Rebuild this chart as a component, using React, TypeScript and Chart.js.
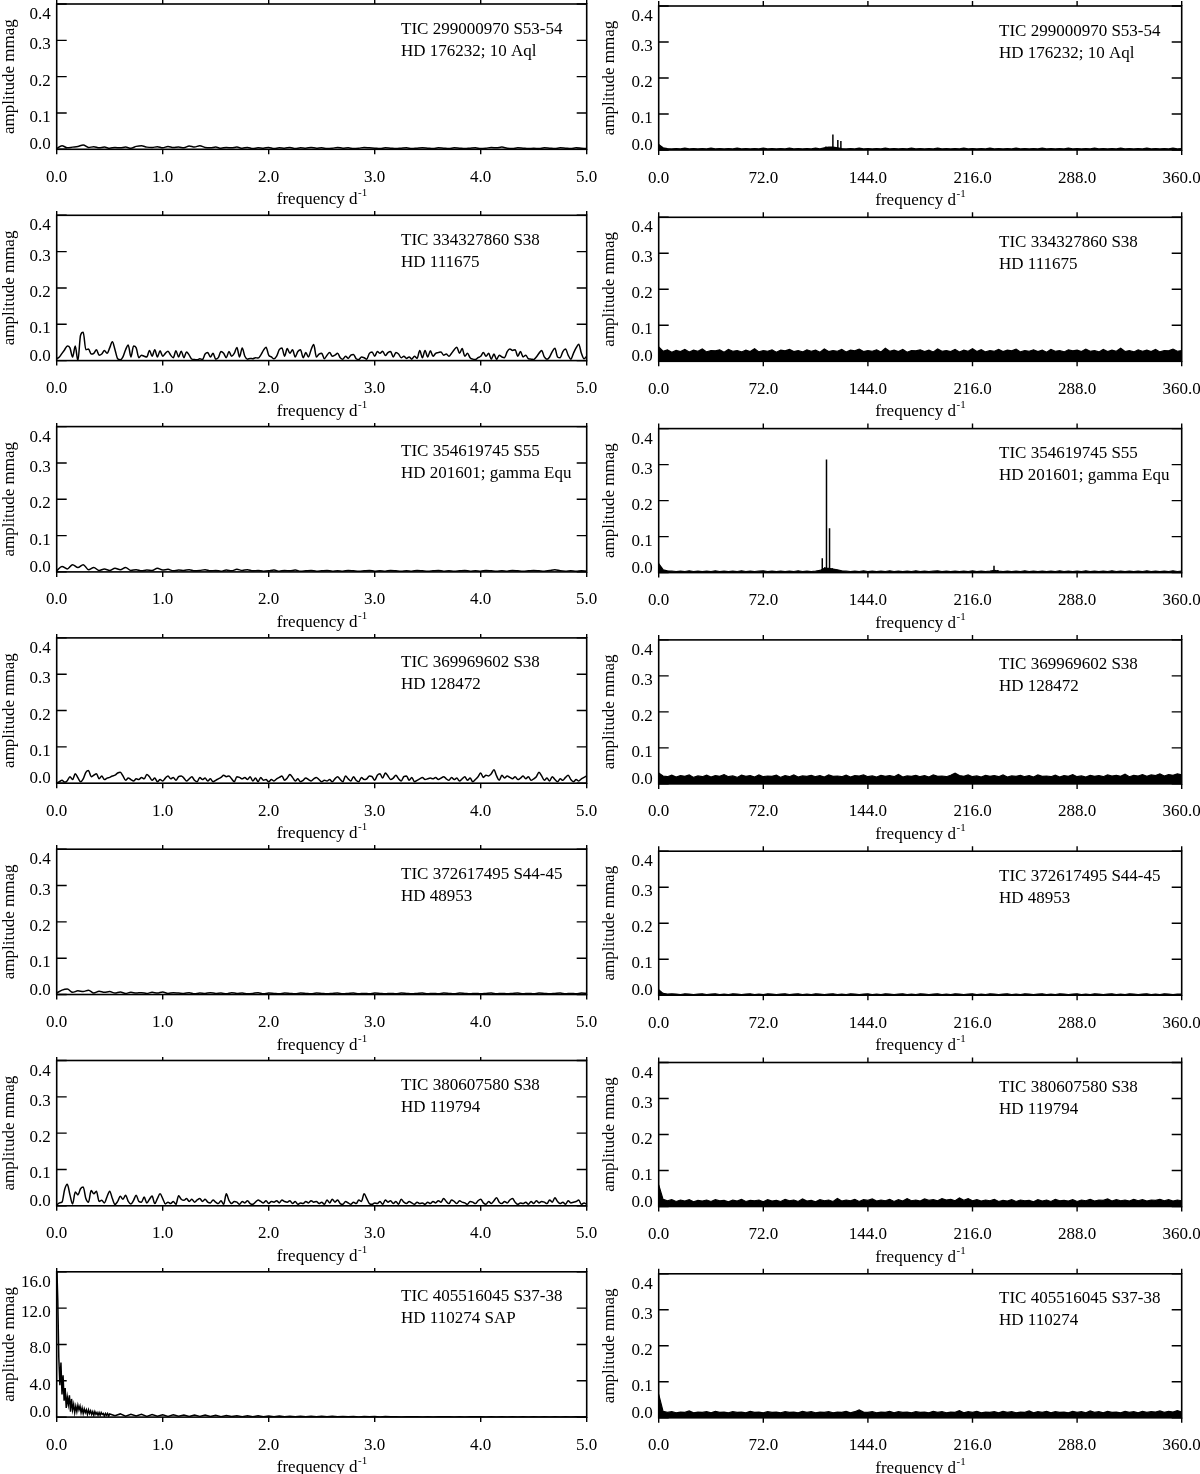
import React, { useEffect, useRef } from "react";
import { Chart, registerables } from "chart.js";
Chart.register(...registerables);

const FONT = '"Liberation Serif", "Times New Roman", serif';

// ---- tick values / labels ----
const leftFreqTicks = [0, 1, 2, 3, 4, 5];
const leftFreqLabels = ["0.0", "1.0", "2.0", "3.0", "4.0", "5.0"];
const rightFreqTicks = [0, 72, 144, 216, 288, 360];
const rightFreqLabels = ["0.0", "72.0", "144.0", "216.0", "288.0", "360.0"];
const ampTicks = [0, 0.1, 0.2, 0.3, 0.4];
const ampLabels = ["0.0", "0.1", "0.2", "0.3", "0.4"];
const sapTicks = [0, 4, 8, 12, 16];
const sapLabels = ["0.0", "4.0", "8.0", "12.0", "16.0"];

// ---- star labels ----
const ticIds = [
  "TIC 299000970 S53-54",
  "TIC 334327860 S38",
  "TIC 354619745 S55",
  "TIC 369969602 S38",
  "TIC 372617495 S44-45",
  "TIC 380607580 S38",
  "TIC 405516045 S37-38",
];
const hdLeft = ["HD 176232; 10 Aql", "HD 111675", "HD 201601; gamma Equ", "HD 128472", "HD 48953", "HD 119794", "HD 110274 SAP"];
const hdRight = ["HD 176232; 10 Aql", "HD 111675", "HD 201601; gamma Equ", "HD 128472", "HD 48953", "HD 119794", "HD 110274"];

// ---- frequency grid steps (d^-1) ----
const STEP_FINE = 0.025;
const STEP_COARSE = 0.05;
const STEP_RIGHT = 3;

// ---- left panels (0-5 d^-1), amplitude in mmag ----
const p1L = [
  0.002,0.010,0.004,0.006,0.008,0.012,0.005,0.007,0.004,0.006,
  0.003,0.005,0.004,0.006,0.003,0.008,0.010,0.006,0.005,0.007,
  0.004,0.008,0.005,0.006,0.004,0.009,0.006,0.010,0.005,0.004,
  0.006,0.003,0.005,0.004,0.006,0.003,0.005,0.002,0.004,0.003,
  0.005,0.002,0.004,0.003,0.005,0.002,0.004,0.003,0.005,0.003,
  0.004,0.002,0.003,0.005,0.003,0.004,0.002,0.003,0.005,0.004,
  0.003,0.002,0.004,0.003,0.002,0.003,0.004,0.002,0.003,0.004,
  0.003,0.002,0.004,0.003,0.002,0.004,0.003,0.002,0.003,0.004,
  0.002,0.003,0.005,0.004,0.006,0.003,0.002,0.004,0.003,0.002,
  0.003,0.002,0.004,0.003,0.002,0.004,0.003,0.002,0.004,0.003,
  0.002,
];
const p2L = [
  0.005,0.010,0.020,0.030,0.040,0.035,0.010,0.040,0.000,0.070,
  0.078,0.030,0.032,0.018,0.020,0.030,0.015,0.018,0.028,0.020,
  0.035,0.052,0.030,0.005,0.002,0.010,0.030,0.043,0.010,0.040,
  0.035,0.008,0.015,0.012,0.010,0.028,0.012,0.030,0.010,0.027,
  0.012,0.020,0.026,0.015,0.008,0.027,0.010,0.026,0.008,0.024,
  0.015,0.004,0.003,0.002,0.005,0.003,0.018,0.022,0.010,0.020,
  0.004,0.008,0.025,0.020,0.008,0.025,0.012,0.020,0.036,0.010,
  0.035,0.012,0.004,0.006,0.005,0.008,0.007,0.015,0.028,0.037,
  0.015,0.010,0.005,0.012,0.030,0.035,0.012,0.033,0.020,0.030,
  0.010,0.025,0.030,0.008,0.022,0.010,0.030,0.044,0.010,0.018,
  0.020,0.005,0.015,0.022,0.012,0.015,0.020,0.008,0.004,0.012,
  0.006,0.015,0.017,0.005,0.003,0.010,0.008,0.004,0.020,0.024,
  0.012,0.025,0.020,0.026,0.014,0.022,0.025,0.010,0.022,0.018,
  0.008,0.012,0.006,0.010,0.004,0.012,0.006,0.028,0.008,0.028,
  0.010,0.027,0.012,0.020,0.022,0.024,0.015,0.018,0.012,0.020,
  0.030,0.037,0.020,0.033,0.012,0.020,0.008,0.004,0.003,0.008,
  0.012,0.022,0.012,0.020,0.004,0.018,0.003,0.015,0.010,0.008,
  0.025,0.032,0.028,0.030,0.012,0.025,0.010,0.015,0.005,0.004,
  0.003,0.010,0.020,0.028,0.010,0.004,0.010,0.025,0.034,0.010,
  0.008,0.025,0.032,0.015,0.004,0.020,0.035,0.045,0.020,0.005,
  0.012,
];
const p3L = [
  0.003,0.015,0.008,0.020,0.012,0.020,0.006,0.012,0.004,0.008,
  0.004,0.010,0.006,0.012,0.004,0.006,0.003,0.005,0.004,0.010,
  0.005,0.007,0.003,0.005,0.004,0.006,0.003,0.004,0.006,0.003,
  0.004,0.002,0.005,0.003,0.007,0.004,0.006,0.003,0.004,0.002,
  0.003,0.005,0.002,0.004,0.003,0.005,0.002,0.003,0.004,0.002,
  0.003,0.004,0.002,0.003,0.002,0.004,0.003,0.002,0.003,0.004,
  0.002,0.003,0.002,0.004,0.003,0.002,0.003,0.002,0.004,0.003,
  0.002,0.003,0.004,0.002,0.003,0.002,0.003,0.004,0.002,0.003,
  0.002,0.004,0.003,0.002,0.003,0.002,0.004,0.003,0.002,0.003,
  0.004,0.003,0.002,0.004,0.006,0.003,0.002,0.003,0.002,0.003,
  0.002,
];
const p4L = [
  0.000,0.004,0.008,0.003,0.007,0.018,0.010,0.026,0.015,0.004,
  0.012,0.030,0.035,0.018,0.022,0.026,0.012,0.020,0.010,0.014,
  0.016,0.020,0.022,0.028,0.030,0.020,0.008,0.014,0.010,0.006,
  0.012,0.010,0.016,0.012,0.024,0.018,0.008,0.014,0.004,0.010,
  0.006,0.014,0.020,0.012,0.016,0.008,0.018,0.020,0.014,0.006,
  0.012,0.018,0.008,0.004,0.016,0.010,0.014,0.006,0.012,0.004,
  0.008,0.012,0.016,0.022,0.018,0.020,0.012,0.004,0.018,0.016,
  0.012,0.016,0.010,0.018,0.006,0.014,0.004,0.016,0.008,0.010,
  0.004,0.010,0.006,0.012,0.016,0.020,0.008,0.014,0.024,0.016,
  0.006,0.012,0.004,0.008,0.014,0.010,0.006,0.012,0.016,0.010,
  0.004,0.008,0.006,0.010,0.004,0.012,0.018,0.010,0.004,0.020,
  0.012,0.006,0.018,0.008,0.004,0.016,0.010,0.012,0.020,0.018,
  0.008,0.022,0.026,0.014,0.028,0.020,0.010,0.014,0.022,0.012,
  0.006,0.018,0.020,0.008,0.016,0.004,0.008,0.012,0.016,0.010,
  0.012,0.014,0.012,0.016,0.010,0.014,0.018,0.012,0.008,0.016,
  0.010,0.014,0.006,0.012,0.018,0.008,0.014,0.004,0.010,0.018,
  0.028,0.016,0.022,0.020,0.026,0.037,0.020,0.008,0.022,0.014,
  0.020,0.016,0.012,0.018,0.010,0.014,0.020,0.012,0.018,0.008,
  0.012,0.018,0.030,0.020,0.008,0.014,0.006,0.018,0.010,0.004,
  0.012,0.008,0.016,0.022,0.010,0.004,0.010,0.006,0.012,0.016,
  0.020,
];
const p5L = [
  0.004,0.012,0.015,0.006,0.010,0.008,0.012,0.004,0.009,0.006,
  0.008,0.004,0.007,0.003,0.006,0.004,0.005,0.003,0.006,0.004,
  0.007,0.003,0.005,0.004,0.003,0.005,0.002,0.004,0.003,0.005,
  0.003,0.004,0.002,0.005,0.003,0.004,0.002,0.003,0.005,0.002,
  0.004,0.003,0.002,0.004,0.003,0.002,0.004,0.003,0.002,0.004,
  0.003,0.002,0.003,0.004,0.002,0.003,0.004,0.002,0.003,0.002,
  0.004,0.003,0.002,0.003,0.002,0.004,0.003,0.002,0.003,0.004,
  0.002,0.003,0.002,0.004,0.003,0.002,0.004,0.003,0.002,0.003,
  0.002,0.003,0.004,0.002,0.003,0.002,0.003,0.004,0.002,0.003,
  0.002,0.004,0.003,0.002,0.003,0.004,0.002,0.003,0.002,0.004,
  0.003,
];
const p6L = [
  0.002,0.008,0.010,0.045,0.059,0.030,0.005,0.038,0.030,0.047,
  0.052,0.020,0.010,0.042,0.033,0.040,0.012,0.015,0.008,0.025,
  0.040,0.020,0.004,0.012,0.026,0.018,0.029,0.012,0.005,0.015,
  0.029,0.012,0.010,0.024,0.008,0.018,0.027,0.006,0.020,0.033,
  0.020,0.005,0.010,0.006,0.012,0.004,0.028,0.018,0.015,0.020,
  0.012,0.018,0.010,0.016,0.020,0.012,0.018,0.010,0.008,0.016,
  0.010,0.006,0.014,0.004,0.033,0.015,0.006,0.012,0.010,0.004,
  0.012,0.008,0.014,0.006,0.004,0.010,0.016,0.012,0.008,0.014,
  0.006,0.012,0.010,0.014,0.008,0.016,0.012,0.010,0.014,0.006,
  0.012,0.004,0.008,0.006,0.012,0.008,0.014,0.010,0.012,0.006,
  0.010,0.004,0.016,0.008,0.018,0.010,0.016,0.006,0.004,0.012,
  0.008,0.004,0.010,0.006,0.016,0.012,0.033,0.020,0.006,0.004,
  0.008,0.006,0.012,0.004,0.016,0.010,0.014,0.006,0.012,0.004,
  0.018,0.010,0.006,0.012,0.008,0.004,0.010,0.006,0.008,0.004,
  0.010,0.006,0.012,0.008,0.014,0.010,0.020,0.012,0.006,0.016,
  0.012,0.006,0.014,0.010,0.008,0.004,0.012,0.010,0.006,0.014,
  0.018,0.008,0.004,0.012,0.006,0.014,0.022,0.010,0.006,0.012,
  0.008,0.016,0.020,0.010,0.004,0.008,0.006,0.010,0.004,0.012,
  0.006,0.014,0.008,0.012,0.010,0.006,0.016,0.010,0.022,0.012,
  0.006,0.010,0.004,0.014,0.008,0.010,0.012,0.016,0.004,0.008,
  0.004,
];
// SAP panel: fine segment 0-0.50 (step 0.01), coarse segment 0.55-5.0 (step 0.05)
const SAP_FINE_STEP = 0.01;
const SAP_COARSE_START = 0.55;
const p7LFine = [
  17.0,13.0,6.5,3.5,6.0,2.5,4.6,1.8,3.2,1.0,
  2.2,1.4,2.4,0.6,2.0,0.8,1.4,0.5,1.2,0.6,
  1.3,0.8,1.2,0.5,1.0,0.4,0.9,0.5,0.8,0.3,
  0.8,0.4,0.7,0.3,0.6,0.2,0.6,0.3,0.5,0.2,
  0.5,0.2,0.5,0.3,0.4,0.1,0.4,0.2,0.4,0.1,
  0.35,
];
const p7LCoarse = [
  0.15,0.35,0.10,0.32,0.12,0.30,0.08,0.28,0.10,0.26,
  0.08,0.25,0.10,0.24,0.06,0.22,0.08,0.22,0.06,0.20,
  0.05,0.18,0.06,0.16,0.05,0.15,0.04,0.14,0.05,0.12,
  0.04,0.12,0.05,0.10,0.04,0.10,0.03,0.09,0.04,0.08,
  0.03,0.08,0.04,0.07,0.03,0.07,0.02,0.06,0.03,0.06,
  0.02,0.06,0.03,0.05,0.02,0.05,0.03,0.05,0.02,0.04,
  0.02,0.04,0.03,0.04,0.02,0.04,0.02,0.04,0.03,0.04,
  0.02,0.03,0.02,0.04,0.02,0.03,0.02,0.03,0.02,0.03,
  0.02,0.03,0.02,0.03,0.02,0.03,0.02,0.03,0.02,0.03,
];

// ---- right panels (0-360 d^-1), noise envelope every 3 d^-1 ----
const p1R = [
  0.015,0.006,0.004,0.003,0.004,0.003,0.005,0.003,0.004,0.003,
  0.004,0.003,0.005,0.003,0.004,0.003,0.004,0.003,0.005,0.003,
  0.004,0.003,0.004,0.003,0.005,0.003,0.004,0.003,0.004,0.003,
  0.005,0.003,0.004,0.003,0.004,0.003,0.005,0.003,0.006,0.008,
  0.008,0.006,0.004,0.003,0.004,0.003,0.005,0.003,0.004,0.003,
  0.004,0.003,0.005,0.003,0.004,0.003,0.004,0.003,0.005,0.003,
  0.004,0.003,0.004,0.003,0.005,0.003,0.004,0.003,0.004,0.003,
  0.005,0.003,0.004,0.003,0.004,0.003,0.005,0.003,0.004,0.003,
  0.004,0.003,0.005,0.003,0.004,0.003,0.004,0.003,0.005,0.003,
  0.004,0.003,0.004,0.003,0.005,0.003,0.004,0.003,0.004,0.003,
  0.005,0.003,0.004,0.003,0.004,0.003,0.005,0.003,0.004,0.003,
  0.004,0.003,0.005,0.003,0.004,0.003,0.004,0.003,0.005,0.003,
  0.004,
];
const p1RSpikeFreq = [115.1, 119.9, 123.3, 125.4];
const p1RSpikeAmp = [0.010, 0.043, 0.028, 0.025];

const p2R = [
  0.040,0.028,0.032,0.025,0.030,0.027,0.033,0.026,0.031,0.028,
  0.034,0.026,0.030,0.029,0.032,0.025,0.033,0.028,0.030,0.026,
  0.031,0.027,0.035,0.026,0.030,0.028,0.032,0.025,0.031,0.029,
  0.033,0.027,0.030,0.026,0.032,0.028,0.031,0.025,0.034,0.027,
  0.030,0.028,0.033,0.026,0.031,0.029,0.034,0.027,0.030,0.028,
  0.032,0.026,0.036,0.028,0.031,0.027,0.033,0.025,0.030,0.029,
  0.032,0.027,0.031,0.026,0.034,0.028,0.030,0.027,0.033,0.026,
  0.031,0.028,0.035,0.027,0.032,0.026,0.030,0.028,0.033,0.027,
  0.031,0.029,0.034,0.026,0.030,0.028,0.032,0.027,0.031,0.025,
  0.033,0.028,0.030,0.026,0.032,0.029,0.031,0.027,0.034,0.028,
  0.030,0.026,0.033,0.027,0.031,0.028,0.036,0.027,0.030,0.026,
  0.032,0.028,0.031,0.027,0.033,0.026,0.030,0.029,0.034,0.028,
  0.030,
];
const p3R = [
  0.025,0.008,0.005,0.004,0.003,0.004,0.003,0.005,0.003,0.004,
  0.003,0.004,0.003,0.005,0.003,0.004,0.003,0.004,0.003,0.005,
  0.003,0.004,0.003,0.004,0.005,0.003,0.004,0.003,0.004,0.003,
  0.004,0.003,0.005,0.003,0.004,0.003,0.004,0.006,0.012,0.012,
  0.010,0.008,0.005,0.004,0.003,0.004,0.003,0.005,0.003,0.004,
  0.003,0.004,0.003,0.005,0.003,0.004,0.003,0.004,0.003,0.005,
  0.003,0.004,0.003,0.004,0.005,0.003,0.004,0.003,0.004,0.003,
  0.004,0.003,0.005,0.003,0.004,0.003,0.004,0.006,0.004,0.003,
  0.004,0.003,0.004,0.003,0.005,0.003,0.004,0.003,0.004,0.003,
  0.004,0.003,0.005,0.003,0.004,0.003,0.004,0.003,0.005,0.003,
  0.004,0.003,0.004,0.003,0.005,0.003,0.004,0.003,0.004,0.003,
  0.004,0.003,0.005,0.003,0.004,0.003,0.004,0.003,0.005,0.003,
  0.004,
];
const p3RSpikeFreq = [112.6, 114.3, 115.5, 117.6, 119.5, 121.0, 230.8, 233.4];
const p3RSpikeAmp = [0.040, 0.015, 0.314, 0.123, 0.012, 0.010, 0.019, 0.007];

const p4R = [
  0.030,0.022,0.020,0.024,0.019,0.023,0.021,0.025,0.018,0.022,
  0.020,0.024,0.019,0.023,0.021,0.026,0.020,0.022,0.018,0.024,
  0.021,0.023,0.019,0.025,0.020,0.022,0.021,0.024,0.018,0.023,
  0.020,0.025,0.019,0.022,0.021,0.024,0.020,0.023,0.019,0.025,
  0.021,0.022,0.020,0.024,0.019,0.023,0.022,0.025,0.020,0.022,
  0.019,0.024,0.021,0.023,0.020,0.026,0.019,0.022,0.021,0.024,
  0.020,0.023,0.019,0.025,0.021,0.022,0.020,0.024,0.030,0.023,
  0.021,0.025,0.020,0.022,0.019,0.024,0.021,0.023,0.020,0.025,
  0.019,0.022,0.021,0.024,0.020,0.023,0.019,0.025,0.021,0.022,
  0.020,0.024,0.019,0.023,0.021,0.026,0.020,0.022,0.019,0.024,
  0.021,0.023,0.020,0.025,0.022,0.024,0.021,0.027,0.020,0.024,
  0.022,0.026,0.021,0.025,0.023,0.028,0.022,0.026,0.024,0.028,
  0.025,
];
const p5R = [
  0.015,0.005,0.003,0.004,0.003,0.002,0.004,0.003,0.002,0.003,
  0.004,0.002,0.003,0.004,0.002,0.003,0.002,0.004,0.003,0.002,
  0.003,0.004,0.002,0.003,0.002,0.004,0.003,0.002,0.003,0.004,
  0.002,0.003,0.004,0.002,0.003,0.002,0.004,0.003,0.002,0.003,
  0.004,0.002,0.003,0.002,0.004,0.003,0.002,0.003,0.004,0.002,
  0.003,0.002,0.004,0.003,0.002,0.003,0.004,0.002,0.003,0.002,
  0.004,0.003,0.002,0.003,0.004,0.002,0.003,0.002,0.004,0.003,
  0.002,0.003,0.004,0.002,0.003,0.002,0.004,0.003,0.002,0.003,
  0.004,0.002,0.003,0.002,0.004,0.003,0.002,0.003,0.004,0.002,
  0.003,0.002,0.004,0.003,0.002,0.003,0.004,0.002,0.003,0.002,
  0.004,0.003,0.002,0.003,0.004,0.002,0.003,0.002,0.004,0.003,
  0.002,0.003,0.004,0.002,0.003,0.002,0.004,0.003,0.002,0.003,
  0.003,
];
const p6R = [
  0.060,0.020,0.016,0.019,0.014,0.018,0.015,0.019,0.013,0.017,
  0.015,0.018,0.014,0.019,0.016,0.017,0.013,0.018,0.015,0.020,
  0.014,0.017,0.016,0.018,0.013,0.019,0.015,0.017,0.014,0.020,
  0.016,0.018,0.014,0.021,0.015,0.017,0.013,0.019,0.016,0.018,
  0.014,0.022,0.015,0.018,0.016,0.020,0.014,0.019,0.017,0.021,
  0.015,0.018,0.016,0.020,0.014,0.019,0.015,0.022,0.016,0.018,
  0.015,0.021,0.017,0.019,0.016,0.022,0.018,0.020,0.016,0.024,
  0.017,0.022,0.016,0.019,0.015,0.018,0.016,0.020,0.014,0.017,
  0.015,0.019,0.014,0.018,0.016,0.017,0.013,0.019,0.015,0.018,
  0.014,0.020,0.016,0.017,0.015,0.019,0.014,0.018,0.016,0.020,
  0.015,0.018,0.017,0.021,0.015,0.019,0.016,0.018,0.015,0.020,
  0.016,0.019,0.015,0.018,0.017,0.020,0.016,0.019,0.015,0.018,
  0.016,
];
const p7R = [
  0.065,0.018,0.015,0.017,0.014,0.016,0.015,0.019,0.014,0.016,
  0.015,0.017,0.014,0.018,0.015,0.016,0.014,0.017,0.015,0.016,
  0.014,0.018,0.015,0.016,0.014,0.017,0.015,0.016,0.014,0.017,
  0.015,0.016,0.014,0.018,0.015,0.017,0.014,0.016,0.015,0.017,
  0.014,0.016,0.015,0.018,0.014,0.017,0.022,0.016,0.015,0.017,
  0.014,0.016,0.015,0.018,0.014,0.017,0.015,0.016,0.014,0.017,
  0.015,0.016,0.014,0.018,0.015,0.017,0.014,0.016,0.015,0.020,
  0.014,0.017,0.015,0.018,0.014,0.016,0.015,0.017,0.014,0.018,
  0.015,0.017,0.014,0.016,0.015,0.019,0.014,0.017,0.015,0.018,
  0.014,0.017,0.015,0.016,0.014,0.018,0.015,0.017,0.014,0.019,
  0.015,0.017,0.014,0.018,0.015,0.016,0.014,0.018,0.015,0.017,
  0.014,0.018,0.015,0.017,0.016,0.019,0.015,0.018,0.016,0.020,
  0.016,
];

// ---------------------------------------------------------------
type Pt = { x: number; y: number | null };

const onGrid = (amps: number[], step: number, start = 0): Pt[] =>
  amps.map((a, i) => ({ x: start + i * step, y: a }));

const spikes = (freqs: number[], amps: number[]): Pt[] => {
  const out: Pt[] = [];
  freqs.forEach((f, i) => {
    out.push({ x: f, y: 0 }, { x: f, y: amps[i] }, { x: f, y: null });
  });
  return out;
};

type PanelCfg = {
  row: number;
  col: number;
  xMax: number;
  yMax: number;
  xTicks: number[];
  xLabels: string[];
  yTicks: number[];
  yLabels: string[];
  line1: string;
  line2: string;
  datasets: any[];
};

const leftLine = (data: Pt[], smooth = true) => ({
  data,
  borderColor: "#000",
  borderWidth: 1.5,
  pointRadius: 0,
  fill: false,
  tension: 0,
  cubicInterpolationMode: smooth ? "monotone" : "default",
});
const rightNoise = (data: Pt[]) => ({
  data,
  borderColor: "#000",
  backgroundColor: "#000",
  borderWidth: 1.2,
  pointRadius: 0,
  fill: "origin",
  tension: 0,
});
const rightSpikes = (data: Pt[]) => ({
  data,
  borderColor: "#000",
  borderWidth: 1.5,
  pointRadius: 0,
  fill: false,
  spanGaps: false,
  tension: 0,
});

const leftData: any[][] = [
  [leftLine(onGrid(p1L, STEP_COARSE))],
  [leftLine(onGrid(p2L, STEP_FINE))],
  [leftLine(onGrid(p3L, STEP_COARSE))],
  [leftLine(onGrid(p4L, STEP_FINE))],
  [leftLine(onGrid(p5L, STEP_COARSE))],
  [leftLine(onGrid(p6L, STEP_FINE))],
  [leftLine([...onGrid(p7LFine, SAP_FINE_STEP), ...onGrid(p7LCoarse, STEP_COARSE, SAP_COARSE_START)], false)],
];
const rightData: any[][] = [
  [rightNoise(onGrid(p1R, STEP_RIGHT)), rightSpikes(spikes(p1RSpikeFreq, p1RSpikeAmp))],
  [rightNoise(onGrid(p2R, STEP_RIGHT))],
  [rightNoise(onGrid(p3R, STEP_RIGHT)), rightSpikes(spikes(p3RSpikeFreq, p3RSpikeAmp))],
  [rightNoise(onGrid(p4R, STEP_RIGHT))],
  [rightNoise(onGrid(p5R, STEP_RIGHT))],
  [rightNoise(onGrid(p6R, STEP_RIGHT))],
  [rightNoise(onGrid(p7R, STEP_RIGHT))],
];

const panels: PanelCfg[] = [];
for (let r = 0; r < 7; r++) {
  panels.push({
    row: r, col: 0, xMax: 5, yMax: r === 6 ? 16 : 0.4,
    xTicks: leftFreqTicks, xLabels: leftFreqLabels,
    yTicks: r === 6 ? sapTicks : ampTicks, yLabels: r === 6 ? sapLabels : ampLabels,
    line1: ticIds[r], line2: hdLeft[r], datasets: leftData[r],
  });
  panels.push({
    row: r, col: 1, xMax: 360, yMax: 0.4,
    xTicks: rightFreqTicks, xLabels: rightFreqLabels,
    yTicks: ampTicks, yLabels: ampLabels,
    line1: ticIds[r], line2: hdRight[r], datasets: rightData[r],
  });
}

// ---- layout ----
const ROW_PITCH = 211.3;
const canvasTopOf = (r: number) => Math.round(ROW_PITCH * r);
const canvasHOf = (r: number) => (r === 6 ? 1474 - canvasTopOf(6) : 211);

function framePlugin(p: PanelCfg) {
  return {
    id: "frameAxes",
    afterDraw(chart: any) {
      const ctx = chart.ctx;
      const { left, right, top, bottom } = chart.chartArea;
      const xs = chart.scales.x;
      const ys = chart.scales.y;
      ctx.save();
      ctx.strokeStyle = "#000";
      ctx.fillStyle = "#000";
      ctx.lineWidth = 1.6;
      ctx.strokeRect(left, top, right - left, bottom - top);
      ctx.lineWidth = 1.4;
      ctx.beginPath();
      p.xTicks.forEach((v) => {
        const px = xs.getPixelForValue(v);
        ctx.moveTo(px, bottom);
        ctx.lineTo(px, bottom + 5);
        ctx.moveTo(px, top);
        ctx.lineTo(px, top - 5);
      });
      p.yTicks.forEach((v) => {
        const py = ys.getPixelForValue(v);
        ctx.moveTo(left, py);
        ctx.lineTo(left + 10, py);
        ctx.moveTo(right, py);
        ctx.lineTo(right - 10, py);
      });
      ctx.stroke();

      ctx.font = `17px ${FONT}`;
      ctx.textBaseline = "alphabetic";
      ctx.textAlign = "center";
      p.xTicks.forEach((v, i) => {
        ctx.fillText(p.xLabels[i], xs.getPixelForValue(v), bottom + 32.5);
      });
      ctx.textAlign = "right";
      p.yTicks.forEach((v, i) => {
        let b = ys.getPixelForValue(v) + 9;
        b = Math.max(top + 15, Math.min(bottom, b));
        ctx.fillText(p.yLabels[i], left - 6, b);
      });

      // x title with superscript
      const main = "frequency d";
      const sup = "-1";
      ctx.font = `17px ${FONT}`;
      const w1 = ctx.measureText(main).width;
      ctx.font = `11px ${FONT}`;
      const w2 = ctx.measureText(sup).width;
      const cx = (left + right) / 2;
      const x0 = cx - (w1 + w2) / 2;
      ctx.textAlign = "left";
      ctx.font = `17px ${FONT}`;
      ctx.fillText(main, x0, bottom + 55);
      ctx.font = `11px ${FONT}`;
      ctx.fillText(sup, x0 + w1 + 0.5, bottom + 47);

      // y title
      ctx.font = `17px ${FONT}`;
      ctx.save();
      ctx.translate(14, (top + bottom) / 2);
      ctx.rotate(-Math.PI / 2);
      ctx.textAlign = "center";
      ctx.fillText("amplitude mmag", 0, 0);
      ctx.restore();

      // annotation
      ctx.textAlign = "left";
      const tx = p.col === 0 ? 401 : 399;
      ctx.fillText(p.line1, tx, top + 29.5);
      ctx.fillText(p.line2, tx, top + 51.5);
      ctx.restore();
    },
  };
}

function Panel({ p }: { p: PanelCfg }) {
  const ref = useRef<HTMLCanvasElement | null>(null);
  const cTop = canvasTopOf(p.row);
  const cH = canvasHOf(p.row);
  useEffect(() => {
    if (!ref.current) return;
    const plotTop = (p.col === 0 ? 4 : 6) + ROW_PITCH * p.row - cTop;
    const plotBottom = (p.col === 0 ? 149.3 : 150) + ROW_PITCH * p.row - cTop;
    const padLeft = p.col === 0 ? 56.7 : 58.7;
    const padRight = p.col === 0 ? 13.3 : 18.3;
    const chart = new Chart(ref.current, {
      type: "line",
      data: { datasets: p.datasets },
      options: {
        animation: false,
        responsive: false,
        maintainAspectRatio: false,
        devicePixelRatio: 1,
        events: [],
        layout: { padding: { left: padLeft, right: padRight, top: plotTop, bottom: cH - plotBottom } },
        plugins: { legend: { display: false }, tooltip: { enabled: false } },
        scales: {
          x: { type: "linear", min: 0, max: p.xMax, display: false },
          y: { type: "linear", min: 0, max: p.yMax, display: false },
        },
        elements: { point: { radius: 0 } },
      },
      plugins: [framePlugin(p)],
    } as any);
    return () => chart.destroy();
  }, []);
  return (
    <canvas
      ref={ref}
      width={600}
      height={cH}
      style={{ position: "absolute", left: p.col * 600, top: cTop, width: 600, height: cH }}
    />
  );
}

export default function App() {
  return (
    <div
      style={{
        position: "absolute",
        left: 0,
        top: 0,
        width: 1200,
        height: 1474,
        overflow: "hidden",
        background: "#fff",
      }}
    >
      {panels.map((p, i) => (
        <Panel key={i} p={p} />
      ))}
    </div>
  );
}
